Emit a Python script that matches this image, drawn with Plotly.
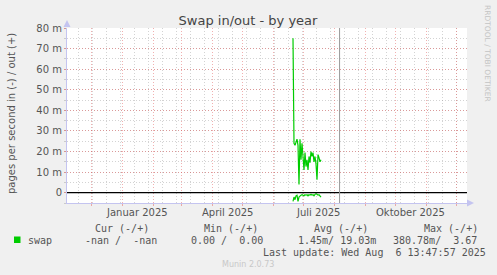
import pandas as pd
import plotly.graph_objects as go

# ---------------- data ----------------
start_day = "2025-06-21"
swap_out_m = [75, 24, 23, 25, 26, 23, 4, 26, 16, 24, 18, 11, 19.5, 12.7, 16, 11,
              17.6, 14.6, 20, 17.6, 19.5, 15, 17.6, 14, 6.3, 18.5, 17, 15, 16]
swap_in_m = [4.2, 2.1, 3.4, 1.5, 1.2, 4.2, 2.1, 1.5, 1.2, 1.0, 1.2, 1.5, 1.0, 1.2, 1.0,
             1.5, 1.0, 1.2, 0.8, 1.2, 1.0, 1.5, 0.8, 0.5, 0.8, 1.2, 1.0, 1.5, 2.1]
days = pd.date_range(start_day, periods=len(swap_out_m), freq="D")

x_range = ["2024-11-07", "2025-12-12"]
month_starts = list(pd.date_range("2024-12-01", "2025-12-01", freq="MS"))
label_dates = ["2025-01-16", "2025-04-16", "2025-07-16", "2025-10-16"]
label_texts = ["Januar 2025", "April 2025", "Juli 2025", "Oktober 2025"]
y_ticks = [0, 10, 20, 30, 40, 50, 60, 70, 80]
y_ticktext = ["0"] + [f"{v} m" for v in y_ticks[1:]]
last_update = "2025-08-06 13:47:57"

title = "Swap in/out - by year"
y_title = "pages per second in (-) / out (+)"
legend_head = ["Cur (-/+)", "Min (-/+)", "Avg (-/+)", "Max (-/+)"]
legend_vals = ["-nan /  -nan", "0.00 /  0.00", "1.45m/ 19.03m", "380.78m/  3.67"]

# ---------------- styling ----------------
W, H = 497, 275
L, R, T, B = 67, 467, 28, 203
GREEN = "#00cc00"
RED_GRID = "rgba(225,90,90,0.48)"
GREY_GRID = "rgba(150,150,150,0.42)"
AXIS = "#c4c4f0"
TXT = "#555555"


def xp(px):
    return (px - L) / (R - L)


def yp(py):
    return (B - py) / (B - T)


fig = go.Figure()
fig.add_trace(go.Scatter(x=days, y=swap_out_m, mode="lines",
                         line=dict(color=GREEN, width=1.2), hoverinfo="skip"))
fig.add_trace(go.Scatter(x=days, y=[-v for v in swap_in_m], mode="lines",
                         line=dict(color=GREEN, width=1.2), hoverinfo="skip"))

shapes = [
    # zero line
    dict(type="line", xref="paper", yref="y", x0=0, x1=1, y0=0, y1=0,
         line=dict(color="black", width=1.2), layer="above"),
    # last-update rule
    dict(type="line", xref="x", yref="paper", x0=last_update, x1=last_update, y0=0, y1=1,
         line=dict(color="#999999", width=1), layer="above"),
    # axis arrows
    dict(type="path", xref="paper", yref="paper",
         path=f"M {xp(63.5)} {yp(27)} L {xp(67)} {yp(20)} L {xp(70.5)} {yp(27)} Z",
         fillcolor=AXIS, line=dict(width=0)),
    dict(type="path", xref="paper", yref="paper",
         path=f"M {xp(467)} {yp(199.5)} L {xp(474)} {yp(203)} L {xp(467)} {yp(206.5)} Z",
         fillcolor=AXIS, line=dict(width=0)),
    # legend swatch
    dict(type="rect", xref="paper", yref="paper", x0=xp(14), x1=xp(20.5), y0=yp(243), y1=yp(236.5),
         fillcolor=GREEN, line=dict(width=0)),
]

ann = []
for d, t in zip(label_dates, label_texts):
    ann.append(dict(x=d, xref="x", y=yp(212.5), yref="paper", text=t, showarrow=False,
                    xanchor="center", yanchor="middle",
                    font=dict(family="DejaVu Sans", size=10, color=TXT)))

mono = dict(family="DejaVu Sans Mono", size=10, color=TXT)
head_x = [94, 203, 313, 423]
for hx, t in zip(head_x, legend_head):
    ann.append(dict(x=xp(hx - 1), xref="paper", y=yp(228), yref="paper", text=t.replace(" ", "&nbsp;"),
                    showarrow=False, xanchor="left", yanchor="middle", font=mono))
ann.append(dict(x=xp(26), xref="paper", y=yp(240), yref="paper", text="swap",
                showarrow=False, xanchor="left", yanchor="middle", font=mono))
val_x = [84, 190, 297, 392]
for vx, t in zip(val_x, legend_vals):
    ann.append(dict(x=xp(vx - 1), xref="paper", y=yp(240), yref="paper", text=t.replace(" ", "&nbsp;"),
                    showarrow=False, xanchor="left", yanchor="middle", font=mono))
ann.append(dict(x=xp(261), xref="paper", y=yp(252), yref="paper",
                text="Last update: Wed Aug  6 13:47:57 2025".replace(" ", "&nbsp;"),
                showarrow=False, xanchor="left", yanchor="middle", font=mono))
ann.append(dict(x=xp(248), xref="paper", y=yp(264), yref="paper", text="Munin 2.0.73",
                showarrow=False, xanchor="center", yanchor="middle",
                font=dict(family="DejaVu Sans", size=8, color="#c8c8c8")))
ann.append(dict(x=xp(488), xref="paper", y=yp(53), yref="paper", text="RRDTOOL / TOBI OETIKER",
                showarrow=False, xanchor="center", yanchor="middle", textangle=90,
                font=dict(family="DejaVu Sans", size=7.5, color="#c4c4c4")))
ann.append(dict(x=xp(11), xref="paper", y=yp(114), yref="paper", text=y_title,
                showarrow=False, xanchor="center", yanchor="middle", textangle=-90,
                font=dict(family="DejaVu Sans", size=10, color=TXT)))

fig.update_layout(
    width=W, height=H,
    margin=dict(l=L, r=W - R, t=T, b=H - B),
    paper_bgcolor="#f0f0f0", plot_bgcolor="white",
    showlegend=False,
    title=dict(text=title, x=248 / W, xref="container", xanchor="center",
               y=1 - 20 / H, yref="container", yanchor="middle",
               font=dict(family="DejaVu Sans", size=13, color="#444444")),
    shapes=shapes, annotations=ann,
    xaxis=dict(type="date", range=x_range, tickmode="array", tickvals=month_starts,
               ticktext=[""] * len(month_starts), showgrid=True, gridcolor=RED_GRID,
               griddash="1px,2px", gridwidth=1, ticks="outside", ticklen=2, tickcolor=RED_GRID,
               showline=True, linecolor=AXIS, linewidth=1, zeroline=False, fixedrange=True,
               minor=dict(tickmode="linear", tick0="2024-11-18", dtick=14 * 86400000,
                          showgrid=True, gridcolor=GREY_GRID, griddash="1px,2px", gridwidth=1,
                          ticks="")),
    yaxis=dict(range=[-5, 80], tickmode="array", tickvals=y_ticks, ticktext=y_ticktext,
               showgrid=True, gridcolor=RED_GRID, griddash="1px,2px", gridwidth=1,
               ticks="outside", ticklen=2, tickcolor=RED_GRID,
               tickfont=dict(family="DejaVu Sans", size=10, color=TXT),
               showline=True, linecolor=AXIS, linewidth=1, zeroline=False, fixedrange=True,
               minor=dict(tickmode="linear", tick0=0, dtick=5, showgrid=True,
                          gridcolor=GREY_GRID, griddash="1px,2px", gridwidth=1,
                          ticks="outside", ticklen=2, tickcolor=GREY_GRID)),
)

fig.write_html("out.html", config={"displayModeBar": False})
